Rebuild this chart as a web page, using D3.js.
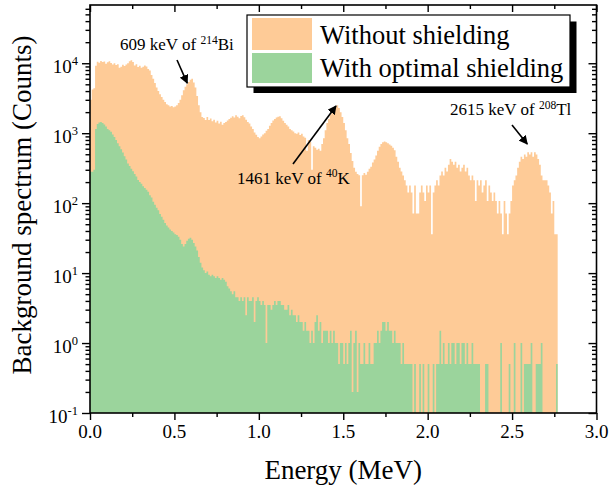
<!DOCTYPE html>
<html><head><meta charset="utf-8">
<script src="https://cdn.jsdelivr.net/npm/d3@7"></script>
<style>
html,body{margin:0;padding:0;background:#fff;}
svg{display:block;font-family:"Liberation Serif","Times New Roman",serif;}
</style></head><body>
<svg id="chart" width="611" height="496"></svg>
<script>
// ---------- DATA ----------
const binWidthMeV = 0.01;          // histogram bin width (MeV), bins start at 0
const withoutShielding = [
3000,4200,4400,9200,10500,10200,10800,10400,10600,9800,
10300,10700,10100,9600,10000,9400,9700,8600,8900,9500,
9100,9600,10000,10700,11000,10400,9300,9700,8800,9200,
8600,8900,9300,9000,8300,7900,6800,6000,5200,4500,
4000,3600,3300,3000,2800,2600,2500,2400,2450,2350,
2400,2500,2700,3000,3500,4100,4600,5000,5400,5800,
6000,5300,4500,3400,2500,2000,1700,1650,1550,1700,
1550,1620,1480,1560,1420,1500,1380,1460,1320,1400,
1450,1520,1600,1660,1750,1680,1800,1720,1640,1760,
1800,1690,1560,1450,1380,1250,1150,1020,950,880,
850,900,960,1000,1080,1150,1280,1400,1520,1600,
1680,1720,1750,1640,1500,1400,1320,1250,1150,1100,
1060,1000,980,1020,940,980,900,860,560,800,
750,300,650,620,580,600,560,700,850,1100,
1400,1600,1850,2000,2200,2400,2500,2300,2000,1700,
1400,1100,850,700,520,400,320,280,260,250,
90,250,270,255,280,310,330,380,420,480,
560,640,700,740,760,740,720,690,660,620,
568,462,391,320,284,249,213,178,142,178,
142,71,178,71,71,142,178,142,107,178,
142,178,36,142,178,213,178,249,284,249,
320,284,355,426,391,355,391,320,355,284,
320,355,284,320,249,213,249,213,107,213,
178,213,142,178,213,107,178,142,107,142,
107,71,107,71,36,107,71,36,71,107,
178,213,249,320,391,462,426,497,462,533,
497,533,462,533,497,426,355,249,213,213,
213,178,142,71,107,36,36
];
const withOptimalShielding = [
280,280,300,1150,1350,1420,1450,1400,1330,1250,
1150,1100,1050,960,880,800,720,650,590,530,
470,420,370,340,310,285,260,240,215,200,
190,175,165,155,145,130,120,105,95,86,
79,70,64,58,52,48,45,42,40,38,
36,35,33,30,26,24,26,29,31,32,
30,27,24,21,17,14,12,11,10,10.5,
9.5,9,9.5,9,8.5,9,8.5,8,8.5,8,
7.5,6.5,6,5.5,5,5.5,4.5,4.5,4,4.5,
4,4.5,2.5,4.5,4,4,4.5,2,4,4.5,
4,3.5,4,3.5,1,3.5,3.5,3,3.5,4,
3.5,4,4,3.5,3.5,3,3,3.5,2.5,3,
2.5,2.5,2,2.5,2,2,1.5,2,1.5,1.5,
1,1.5,1,2,2.5,1.5,2,1,1.5,1.5,
1.5,1,1.5,1,1.5,1,1,0.5,1,1,
0.5,1,0.5,1,1.5,0.2,1,1.5,0.2,1,
0.5,0.5,1,0.5,0.5,1,0.5,0.5,1,1,
1.5,1,1.5,2,2,1.5,2,1.5,1.5,1,
1.5,1,1,1,0.5,1,0.5,0.5,0.5,0.5,
0.5,0,0.5,0,0,0.5,0,0.5,0,0,
0.5,0,0,0.5,0,0.5,0.5,1.5,0.5,1,
0.5,0.5,1,0.5,1,1,0.5,1,1,0.5,
1,1,0.5,1,0.5,0.5,1,0.5,0.5,0.5,
0.5,0,0,0,0.5,0.5,0,0,0,0,
0,0,0,1,0,0,0,0,0.5,0,
0,1,0,0,0,1,0,0.5,0.5,0.5,
0.5,1,0,0,0.5,0.5,0.5,1,0,0,
0,0,0,0,0,0,0.5
];
const xTickValues = [0, 0.5, 1.0, 1.5, 2.0, 2.5, 3.0];
const xTickLabels = ["0.0", "0.5", "1.0", "1.5", "2.0", "2.5", "3.0"];
const yTickExponents = [-1, 0, 1, 2, 3, 4];
const seriesNames = ["Without shielding", "With optimal shielding"];
const peakLabels = [
  {pre: "609 keV of ", sup: "214", post: "Bi", energy: 0.576, counts: 5200},
  {pre: "1461 keV of ", sup: "40", post: "K", energy: 1.457, counts: 2450},
  {pre: "2615 keV of ", sup: "208", post: "Tl", energy: 2.59, counts: 700}
];

// ---------- LAYOUT ----------
const m = {left: 90, right: 596.5, top: 5, bottom: 413};
const colors = {orange: "#FECB97", green: "#9BD49C"};
const svg = d3.select("#chart");

const x = d3.scaleLinear().domain([0, 3]).range([m.left, m.right]);
const y = d3.scaleLog().domain([0.1, 68000]).range([m.bottom, m.top]);

svg.append("defs").append("clipPath").attr("id", "clip")
  .append("rect").attr("x", m.left).attr("y", m.top)
  .attr("width", m.right - m.left).attr("height", m.bottom - m.top);

const plot = svg.append("g").attr("clip-path", "url(#clip)");

// histogram drawn as a stepped area (one bar per bin, no seams)
function drawHist(arr, color, cls) {
  const pts = arr.map((v, i) => ({e: i * binWidthMeV, v}));
  pts.push({e: arr.length * binWidthMeV, v: arr[arr.length - 1]});
  const area = d3.area().curve(d3.curveStepAfter)
    .x(d => x(d.e))
    .y0(y(0.1))
    .y1(d => y(Math.max(d.v, 0.1)));
  plot.append("path").attr("class", cls).datum(pts)
    .attr("d", area).attr("fill", color);
}
drawHist(withoutShielding, colors.orange, "orange");
drawHist(withOptimalShielding, colors.green, "green");

// ---------- AXES ----------
const xMinor = d3.range(0.25, 3, 0.5);
const yMinor = [];
for (let e = -1; e <= 4; e++) for (let k = 2; k <= 9; k++) { const v = k * Math.pow(10, e); if (v <= 68000) yMinor.push(v); }

const axisG = svg.append("g");
axisG.append("g").attr("transform", `translate(0,${m.bottom})`)
  .call(d3.axisBottom(x).tickValues(xTickValues).tickSize(7).tickFormat(""));
axisG.append("g").attr("transform", `translate(0,${m.bottom})`)
  .call(d3.axisBottom(x).tickValues(xMinor).tickSize(4).tickFormat(""));
axisG.append("g").attr("transform", `translate(0,${m.top})`)
  .call(d3.axisBottom(x).tickValues(xTickValues).tickSize(7).tickFormat(""));
axisG.append("g").attr("transform", `translate(0,${m.top})`)
  .call(d3.axisBottom(x).tickValues(xMinor).tickSize(4).tickFormat(""));
const yMajorVals = yTickExponents.map(e => Math.pow(10, e));
axisG.append("g").attr("transform", `translate(${m.left},0)`)
  .call(d3.axisLeft(y).tickValues(yMajorVals).tickSize(8).tickFormat(""));
axisG.append("g").attr("transform", `translate(${m.left},0)`)
  .call(d3.axisLeft(y).tickValues(yMinor).tickSize(4.5).tickFormat(""));
axisG.append("g").attr("transform", `translate(${m.right},0)`)
  .call(d3.axisLeft(y).tickValues(yMajorVals).tickSize(8).tickFormat(""));
axisG.append("g").attr("transform", `translate(${m.right},0)`)
  .call(d3.axisLeft(y).tickValues(yMinor).tickSize(4.5).tickFormat(""));
axisG.selectAll(".domain").remove();
axisG.selectAll("line").attr("stroke", "#000").attr("stroke-width", 1.4);
svg.append("rect").attr("x", m.left).attr("y", m.top)
  .attr("width", m.right - m.left).attr("height", m.bottom - m.top)
  .attr("fill", "none").attr("stroke", "#000").attr("stroke-width", 1.6);

svg.append("g").selectAll("text").data(xTickValues).join("text")
  .attr("x", d => x(d)).attr("y", 438).attr("text-anchor", "middle")
  .attr("font-size", 19).attr("fill", "#000")
  .text((d, i) => xTickLabels[i]);

const yl = svg.append("g").selectAll("text").data(yTickExponents).join("text")
  .attr("x", 78).attr("y", d => y(Math.pow(10, d)) + 10)
  .attr("text-anchor", "end").attr("font-size", 19).attr("fill", "#000");
yl.append("tspan").text("10");
yl.append("tspan").attr("font-size", 12.5).attr("dy", -8).text(d => String(d));

svg.append("text").attr("x", (m.left + m.right) / 2).attr("y", 479)
  .attr("text-anchor", "middle").attr("font-size", 27).text("Energy (MeV)");
svg.append("text").attr("transform", "translate(31,205) rotate(-90)")
  .attr("text-anchor", "middle").attr("font-size", 27).text("Background spectrum (Counts)");

// ---------- LEGEND ----------
const lg = svg.append("g");
lg.append("rect").attr("x", 253.5).attr("y", 21.5).attr("width", 323).attr("height", 71.5).attr("fill", "#000");
lg.append("rect").attr("x", 247).attr("y", 15).attr("width", 323).attr("height", 72)
  .attr("fill", "#fff").attr("stroke", "#000").attr("stroke-width", 1.2);
lg.append("rect").attr("x", 252).attr("y", 18).attr("width", 60).attr("height", 32).attr("fill", colors.orange);
lg.append("rect").attr("x", 252).attr("y", 53).attr("width", 60).attr("height", 30).attr("fill", colors.green);
lg.append("text").attr("x", 320).attr("y", 43.5).attr("font-size", 26.5).text(seriesNames[0]);
lg.append("text").attr("x", 320).attr("y", 76.5).attr("font-size", 26.5).text(seriesNames[1]);

// ---------- ANNOTATIONS ----------
svg.append("defs").append("marker").attr("id", "ah")
  .attr("viewBox", "0 0 10 10").attr("refX", 9).attr("refY", 5)
  .attr("markerWidth", 9).attr("markerHeight", 9).attr("markerUnits", "userSpaceOnUse")
  .attr("orient", "auto")
  .append("path").attr("d", "M0,0 L10,5 L0,10 z").attr("fill", "#000");

const annLayout = [
  {tx: 120, ty: 50, sx: 177, sy: 60},
  {tx: 237, ty: 183.5, sx: 293, sy: 164},
  {tx: 450, ty: 115, sx: 512, sy: 125}
];
peakLabels.forEach((p, i) => {
  const L = annLayout[i];
  const t = svg.append("text").attr("x", L.tx).attr("y", L.ty).attr("font-size", 17).attr("fill", "#000");
  t.append("tspan").text(p.pre);
  t.append("tspan").attr("font-size", 11.5).attr("dy", -6.5).text(p.sup);
  t.append("tspan").attr("dy", 6.5).text(p.post);
  svg.append("line").attr("x1", L.sx).attr("y1", L.sy)
    .attr("x2", x(p.energy)).attr("y2", y(p.counts))
    .attr("stroke", "#000").attr("stroke-width", 1.6).attr("marker-end", "url(#ah)");
});
</script>
</body></html>
